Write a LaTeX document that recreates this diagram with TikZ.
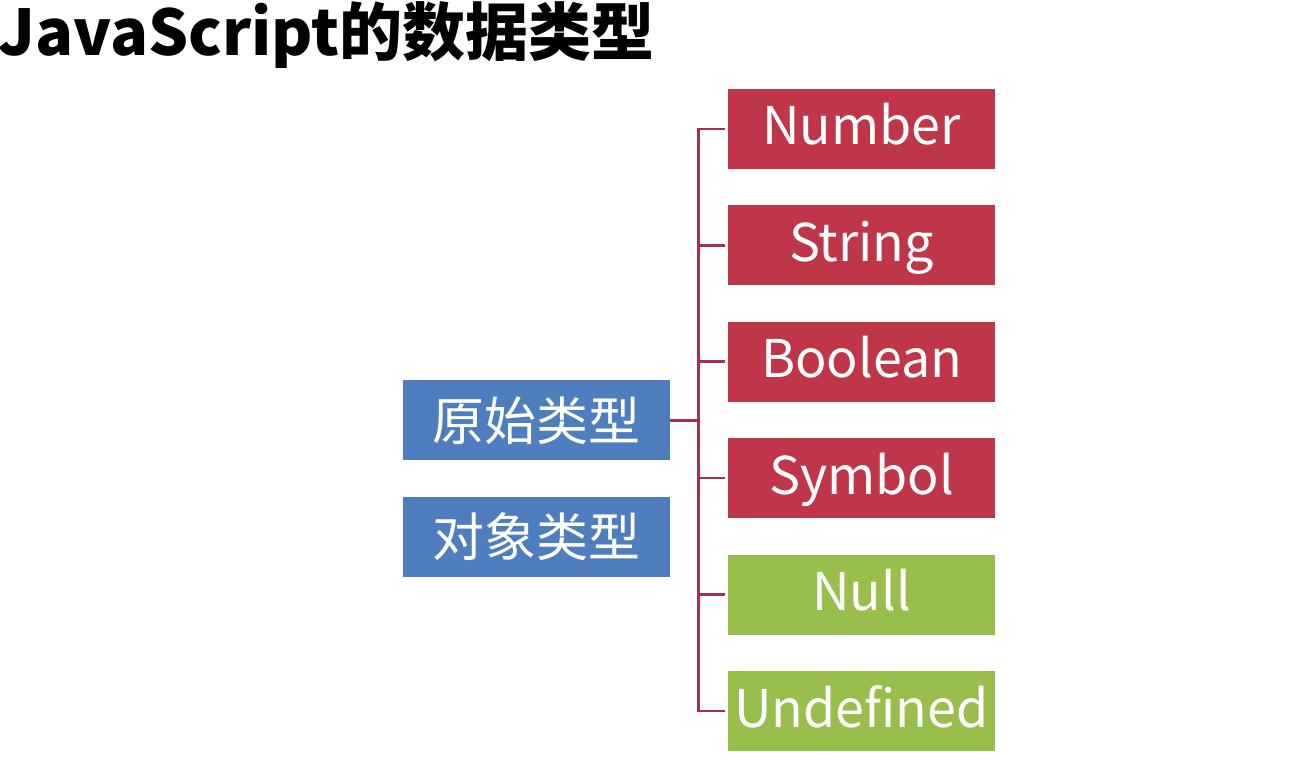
\documentclass[tikz,border=0pt]{standalone}
\usepackage{fontspec}
\setmainfont{Noto Sans CJK SC}
\usetikzlibrary{positioning}

\definecolor{jsred}{RGB}{190,54,72}
\definecolor{jsblue}{RGB}{79,126,190}
\definecolor{jsgreen}{RGB}{152,190,76}
\definecolor{jsline}{RGB}{168,48,76}

\tikzset{
    typebox/.style={rectangle, minimum width=267pt, minimum height=80pt, inner sep=0pt,
        text=white, font=\fontsize{52}{52}\selectfont},
    latinbox/.style={typebox, text height=40pt, text depth=8pt},
    link/.style={draw=jsline, line width=2.6pt}
}

\begin{document}
\begin{tikzpicture}[x=1pt,y=1pt,node distance=116.4pt]
    \useasboundingbox (0,0) rectangle (1315,764);

    % Title
    \node[anchor=base west, inner sep=0pt, font=\fontsize{63}{63}\selectfont\bfseries] (title) at (-2,708) {JavaScript的数据类型};

    % Left column
    \node[typebox, fill=jsblue] (prim) at (536.5,343.5) {原始类型};
    \node[typebox, fill=jsblue] (obj) [below of=prim] {对象类型};

    % Right column, stacked from the top
    \node[latinbox, fill=jsred] (number) at (861.5,635) {Number};
    \node[latinbox, fill=jsred] (string) [below of=number] {String};
    \node[latinbox, fill=jsred] (boolean) [below of=string] {Boolean};
    \node[latinbox, fill=jsred] (symbol) [below of=boolean] {Symbol};
    \node[latinbox, fill=jsgreen] (null) [below of=symbol] {Null};
    \node[latinbox, fill=jsgreen] (undef) [below of=null] {Undefined};

    % Tree connectors
    \foreach \t in {number,string,boolean,symbol,null,undef}
        \draw[link] (prim.east) -- ++(28,0) |- ([xshift=-3pt]\t.west);
\end{tikzpicture}
\end{document}
